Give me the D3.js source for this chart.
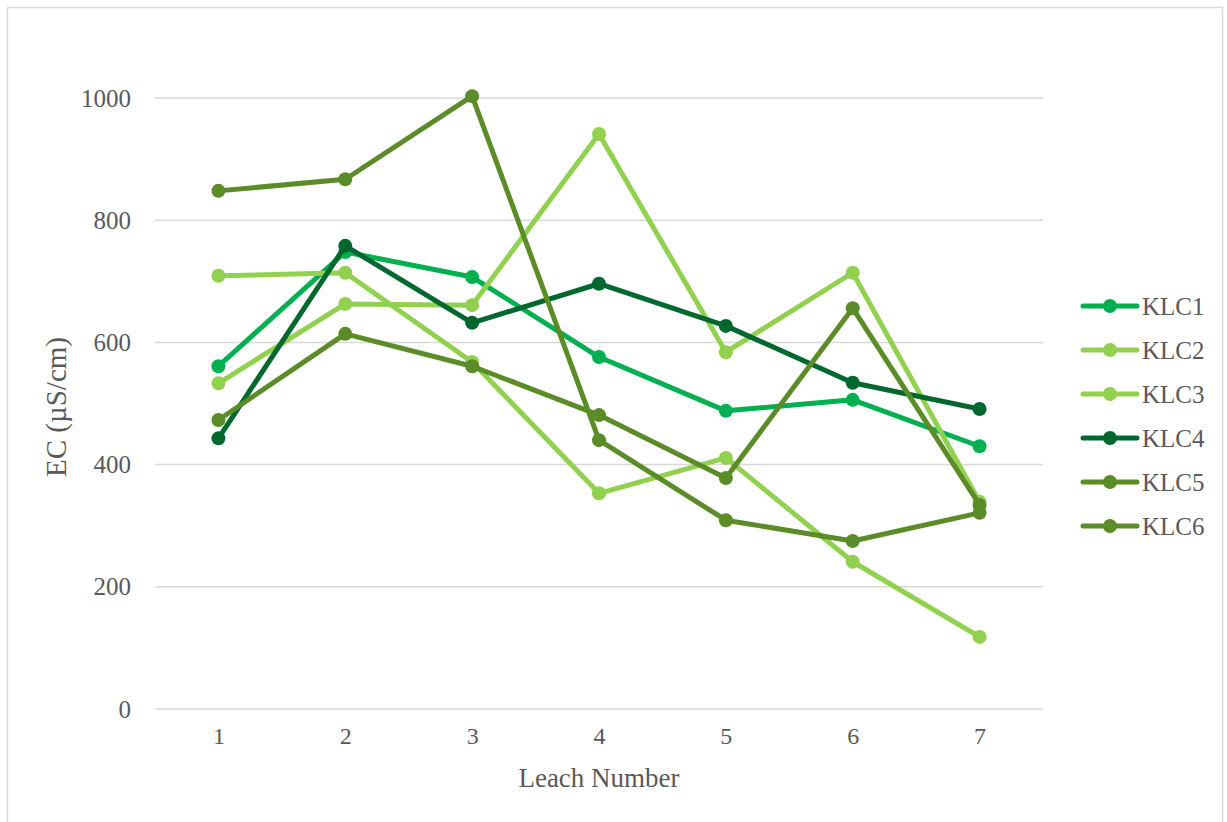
<!DOCTYPE html>
<html>
<head>
<meta charset="utf-8">
<script src="https://cdn.jsdelivr.net/npm/d3@7"></script>
<style>
  html, body { margin: 0; padding: 0; background: #fff; }
  svg { display: block; }
  text { font-family: "Liberation Serif", "DejaVu Serif", serif; fill: #595959; }
</style>
</head>
<body>
<svg id="chart" width="1227" height="822"></svg>
<script>
const categories = [1, 2, 3, 4, 5, 6, 7];
const seriesNames = ["KLC1", "KLC2", "KLC3", "KLC4", "KLC5", "KLC6"];
const KLC1 = [561, 748, 707, 576, 488, 506, 430];
const KLC2 = [709, 714, 568, 353, 411, 241, 118];
const KLC3 = [533, 663, 661, 941, 584, 714, 339];
const KLC4 = [443, 758, 632, 696, 627, 534, 491];
const KLC5 = [473, 614, 561, 481, 378, 656, 334];
const KLC6 = [848, 867, 1003, 440, 309, 275, 321];
const seriesColors = ["#00B050", "#92D050", "#92D050", "#00682F", "#5B8C28", "#5B8C28"];
const yTicks = [0, 200, 400, 600, 800, 1000];
const xTitle = "Leach Number";
const yTitle = "EC (µS/cm)";

const series = seriesNames.map((name, i) => ({
  name, color: seriesColors[i], values: [KLC1, KLC2, KLC3, KLC4, KLC5, KLC6][i]
}));

const svg = d3.select("#chart");

// chart border
svg.append("rect").attr("x", 7.5).attr("y", 7.5).attr("width", 1215).attr("height", 830)
  .attr("fill", "none").attr("stroke", "#D9D9D9").attr("stroke-width", 1.5);

const x = d3.scalePoint().domain(categories).range([155, 1043]).padding(0.5);
const y = d3.scaleLinear().domain([0, 1000]).range([709, 98]);

// gridlines
svg.append("g").selectAll("line").data(yTicks).join("line")
  .attr("x1", 155).attr("x2", 1043)
  .attr("y1", d => y(d)).attr("y2", d => y(d))
  .attr("stroke", "#D9D9D9").attr("stroke-width", 1.5);

// y axis labels
const yAxis = d3.axisLeft(y).tickValues(yTicks).tickFormat(d3.format("d")).tickSize(0).tickPadding(0);
const yg = svg.append("g").attr("transform", "translate(131,0)").call(yAxis);
yg.select(".domain").remove();
yg.selectAll("text").attr("font-size", 25).attr("font-family", "Liberation Serif").attr("fill", "#595959");

// x axis labels
const xAxis = d3.axisBottom(x).tickSize(0).tickPadding(0);
const xg = svg.append("g").attr("transform", "translate(0,727)").call(xAxis);
xg.select(".domain").remove();
xg.selectAll("text").attr("font-size", 24).attr("font-family", "Liberation Serif").attr("fill", "#595959");

// axis titles
svg.append("text").attr("x", x(4) ).attr("y", 787).attr("text-anchor", "middle")
  .attr("font-size", 27).text(xTitle);
svg.append("text").attr("transform", "translate(66,407) rotate(-90)").attr("text-anchor", "middle")
  .attr("font-size", 29).text(yTitle);

// lines
const line = d3.line().x((d, i) => x(categories[i])).y(d => y(d));
const sg = svg.append("g").selectAll("g").data(series).join("g");
sg.append("path").attr("d", d => line(d.values))
  .attr("fill", "none").attr("stroke", d => d.color).attr("stroke-width", 5)
  .attr("stroke-linejoin", "round").attr("stroke-linecap", "round");
sg.selectAll("circle").data(d => d.values.map((v, i) => ({v, i, color: d.color}))).join("circle")
  .attr("cx", d => x(categories[d.i])).attr("cy", d => y(d.v)).attr("r", 7)
  .attr("fill", d => d.color);

// legend
const leg = svg.append("g").selectAll("g").data(series).join("g")
  .attr("transform", (d, i) => `translate(1083,${306 + i * 44})`);
leg.append("line").attr("x1", 0).attr("x2", 54).attr("y1", 0).attr("y2", 0)
  .attr("stroke", d => d.color).attr("stroke-width", 5).attr("stroke-linecap", "round");
leg.append("circle").attr("cx", 27).attr("cy", 0).attr("r", 7).attr("fill", d => d.color);
leg.append("text").attr("x", 59).attr("y", 9).attr("font-size", 25).text(d => d.name);
</script>
</body>
</html>
